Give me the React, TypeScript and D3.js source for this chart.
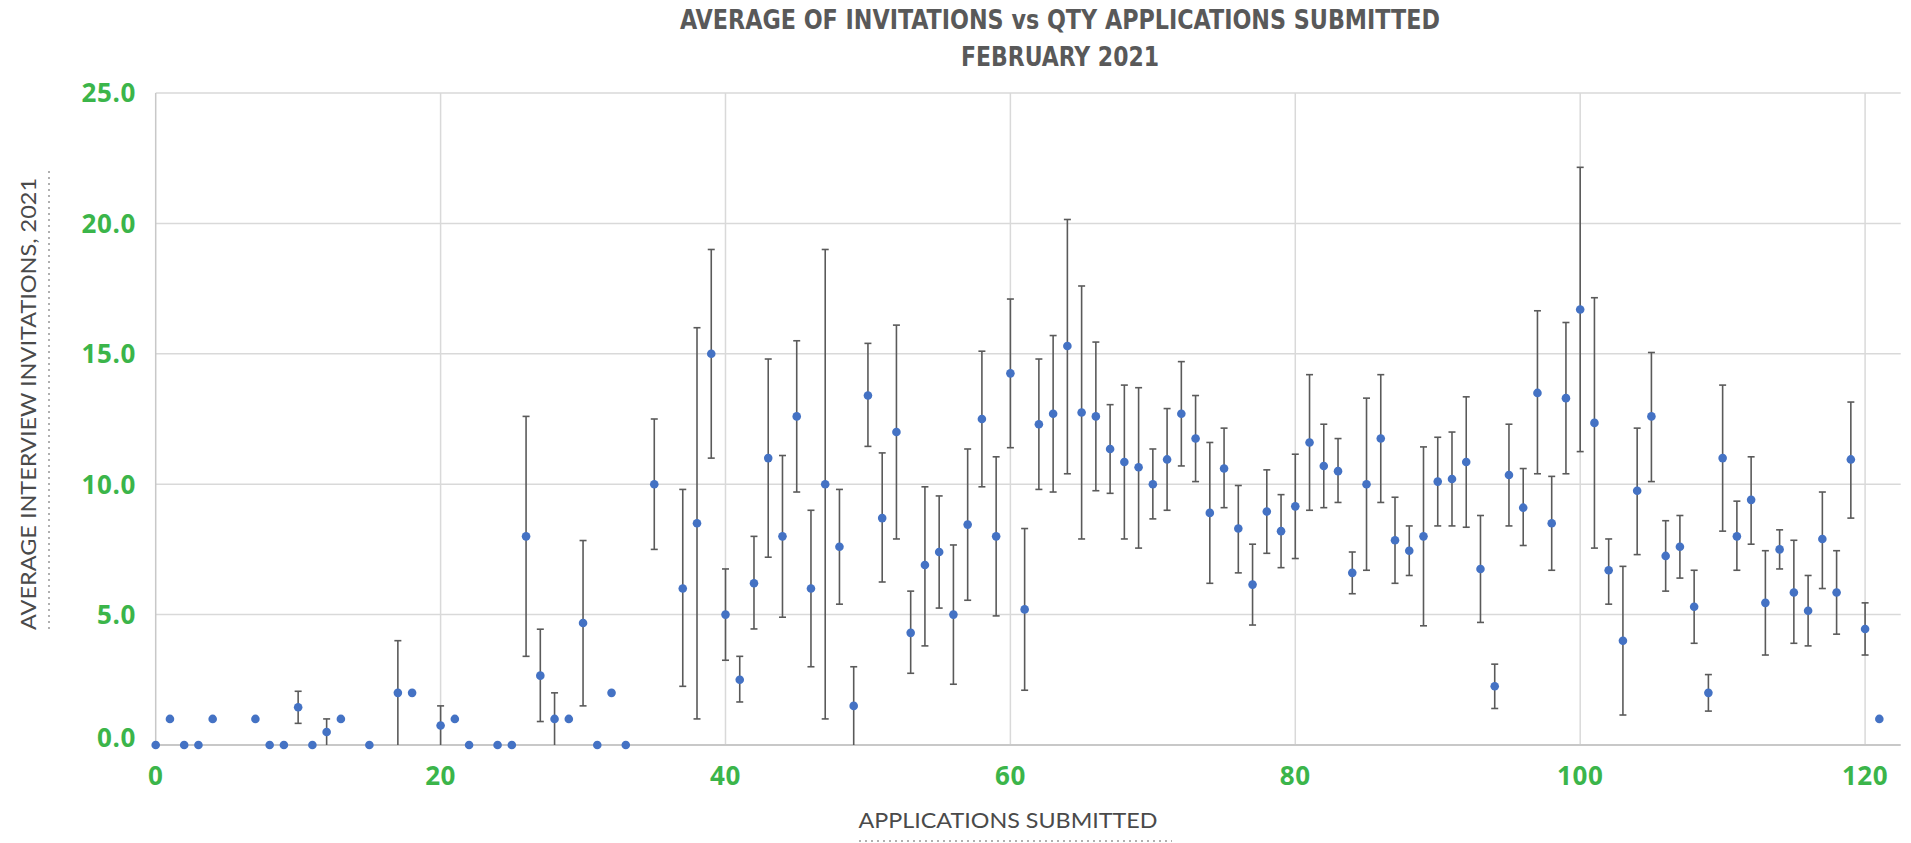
import React from "react";
import * as d3 from "d3";

const TITLE_LINE_1 = "AVERAGE OF INVITATIONS vs QTY APPLICATIONS SUBMITTED";
const TITLE_LINE_2 = "FEBRUARY 2021";
const X_TITLE = "APPLICATIONS SUBMITTED";
const Y_TITLE = "AVERAGE INTERVIEW INVITATIONS, 2021";

const xTicks = [0, 20, 40, 60, 80, 100, 120];
const yTicks = [0, 5, 10, 15, 20, 25];

// applications submitted
const apps = [
  0, 1, 2, 3, 4, 7, 8, 9, 10, 11, 12, 13, 15, 17, 18, 20, 21, 22, 24, 25,
  26, 27, 28, 29, 30, 31, 32, 33, 35, 37, 38, 39, 40, 41, 42, 43, 44, 45, 46, 47,
  48, 49, 50, 51, 52, 53, 54, 55, 56, 57, 58, 59, 60, 61, 62, 63, 64, 65, 66, 67,
  68, 69, 70, 71, 72, 73, 74, 75, 76, 77, 78, 79, 80, 81, 82, 83, 84, 85, 86, 87,
  88, 89, 90, 91, 92, 93, 94, 95, 96, 97, 98, 99, 100, 101, 102, 103, 104, 105, 106, 107,
  108, 109, 110, 111, 112, 113, 114, 115, 116, 117, 118, 119, 120, 121,
];
// average invitations
const avgInv = [
  0, 1, 0, 0, 1, 1, 0, 0, 1.45, 0, 0.5, 1, 0, 2.0, 2, 0.75, 1, 0, 0, 0,
  8.0, 2.66, 1.0, 1, 4.68, 0, 2, 0, 10.0, 6.0, 8.5, 15.0, 5.0, 2.5, 6.2, 11.0, 8.0, 12.6, 6.0, 10.0,
  7.6, 1.5, 13.4, 8.7, 12.0, 4.3, 6.9, 7.4, 5.0, 8.45, 12.5, 8.0, 14.25, 5.2, 12.3, 12.7, 15.3, 12.75, 12.6, 11.35,
  10.85, 10.65, 10.0, 10.95, 12.7, 11.75, 8.9, 10.6, 8.3, 6.15, 8.95, 8.2, 9.15, 11.6, 10.7, 10.5, 6.6, 10.0, 11.75, 7.85,
  7.45, 8.0, 10.1, 10.2, 10.85, 6.75, 2.25, 10.35, 9.1, 13.5, 8.5, 13.3, 16.7, 12.35, 6.7, 4.0, 9.75, 12.6, 7.25, 7.6,
  5.3, 2.0, 11.0, 8.0, 9.4, 5.45, 7.5, 5.85, 5.15, 7.9, 5.85, 10.95, 4.45, 1.0,
];
// error bar low ends (null = no bar)
const errLow = [
  null, null, null, null, null, null, null, null, 0.83, null, 0, null, null, 0, null, 0, null, null, null, null,
  3.4, 0.9, 0, null, 1.5, null, null, null, 7.5, 2.25, 1.0, 11.0, 3.25, 1.65, 4.45, 7.2, 4.9, 9.7, 3.0, 1.0,
  5.4, 0, 11.45, 6.25, 7.9, 2.75, 3.8, 5.25, 2.33, 5.55, 9.9, 4.95, 11.4, 2.1, 9.8, 9.7, 10.4, 7.9, 9.75, 9.65,
  7.9, 7.55, 8.67, 9.0, 10.7, 10.1, 6.2, 9.1, 6.6, 4.6, 7.35, 6.8, 7.15, 9.0, 9.1, 9.3, 5.8, 6.7, 9.3, 6.2,
  6.5, 4.57, 8.4, 8.4, 8.35, 4.7, 1.4, 8.4, 7.65, 10.4, 6.7, 10.4, 11.25, 7.55, 5.4, 1.15, 7.3, 10.1, 5.9, 6.4,
  3.9, 1.3, 8.2, 6.7, 7.7, 3.45, 6.75, 3.9, 3.8, 6.0, 4.25, 8.7, 3.45, null,
];
// error bar high ends (null = no bar)
const errHigh = [
  null, null, null, null, null, null, null, null, 2.06, null, 1.0, null, null, 4.0, null, 1.5, null, null, null, null,
  12.6, 4.44, 2.0, null, 7.84, null, null, null, 12.5, 9.8, 16.0, 19.0, 6.75, 3.4, 8.0, 14.8, 11.1, 15.5, 9.0, 19.0,
  9.8, 3.0, 15.4, 11.2, 16.1, 5.9, 9.9, 9.55, 7.67, 11.35, 15.1, 11.05, 17.1, 8.3, 14.8, 15.7, 20.15, 17.6, 15.45, 13.05,
  13.8, 13.7, 11.35, 12.9, 14.7, 13.4, 11.6, 12.15, 9.95, 7.7, 10.55, 9.6, 11.15, 14.2, 12.3, 11.75, 7.4, 13.3, 14.2, 9.5,
  8.4, 11.43, 11.8, 12.0, 13.35, 8.8, 3.1, 12.3, 10.6, 16.65, 10.3, 16.2, 22.15, 17.15, 7.9, 6.85, 12.15, 15.05, 8.6, 8.8,
  6.7, 2.7, 13.8, 9.35, 11.05, 7.45, 8.25, 7.85, 6.5, 9.7, 7.45, 13.15, 5.45, null,
];

const W = 1911;
const H = 843;
const LEFT = 155.7;
const RIGHT = 1900.7;
const TOP = 93;
const BOTTOM = 745;

export default function App() {
  const x = d3.scaleLinear().domain([0, 122.5]).range([LEFT, RIGHT]);
  const y = d3.scaleLinear().domain([0, 25]).range([BOTTOM, TOP]);
  const green = "#3bb54a";
  const tickFont = "'Open Sans', 'DejaVu Sans', sans-serif";
  const titleFont = "'Liberation Sans Narrow', 'DejaVu Sans Condensed', 'Open Sans', sans-serif";
  const axisTitleFont = "'Lato', 'Open Sans', sans-serif";
  const cap = 3.5;

  return (
    <svg
      width={W}
      height={H}
      style={{ position: "absolute", left: 0, top: 0, display: "block", background: "#fff" }}
    >
      {/* title */}
      <text
        x={1060}
        y={29}
        textAnchor="middle"
        fontFamily={titleFont}
        fontWeight="bold"
        fontSize={27}
        fill="#595959"
        textLength={760}
        lengthAdjust="spacingAndGlyphs"
      >
        {TITLE_LINE_1}
      </text>
      <text
        x={1060}
        y={66}
        textAnchor="middle"
        fontFamily={titleFont}
        fontWeight="bold"
        fontSize={27}
        fill="#595959"
        textLength={198}
        lengthAdjust="spacingAndGlyphs"
      >
        {TITLE_LINE_2}
      </text>

      {/* horizontal gridlines */}
      {yTicks.filter((t) => t > 0).map((t) => (
        <line key={"hy" + t} x1={LEFT} x2={RIGHT} y1={y(t)} y2={y(t)} stroke="#d9d9d9" strokeWidth={1.5} />
      ))}
      {/* vertical gridlines */}
      {xTicks.filter((t) => t > 0).map((t) => (
        <line key={"vx" + t} x1={x(t)} x2={x(t)} y1={TOP} y2={BOTTOM} stroke="#d9d9d9" strokeWidth={1.5} />
      ))}
      {/* axes */}
      <line x1={LEFT} x2={LEFT} y1={TOP} y2={BOTTOM} stroke="#c8c8c8" strokeWidth={1.5} />
      <line x1={LEFT} x2={RIGHT} y1={BOTTOM} y2={BOTTOM} stroke="#c8c8c8" strokeWidth={2} />

      {/* y tick labels */}
      {yTicks.map((t) => (
        <text
          key={"yl" + t}
          x={136}
          y={y(t) - (t === 0 ? 7 : 0)}
          dy="0.36em"
          textAnchor="end"
          fontFamily={tickFont}
          fontWeight="bold"
          fontSize={26}
          letterSpacing={0.6}
          fill={green}
        >
          {d3.format(".1f")(t)}
        </text>
      ))}
      {/* x tick labels */}
      {xTicks.map((t) => (
        <text
          key={"xl" + t}
          x={x(t)}
          y={776}
          dy="0.36em"
          textAnchor="middle"
          fontFamily={tickFont}
          fontWeight="bold"
          fontSize={26}
          letterSpacing={0.6}
          fill={green}
        >
          {t}
        </text>
      ))}

      {/* axis titles */}
      <text
        x={1008}
        y={828}
        textAnchor="middle"
        fontFamily={axisTitleFont}
        fontSize={22}
        fill="#4a4a4a"
        textLength={299}
        lengthAdjust="spacingAndGlyphs"
      >
        {X_TITLE}
      </text>
      <line x1={859} x2={1172} y1={841} y2={841} stroke="#b0b0b0" strokeWidth={2} strokeDasharray="2,4" />
      <text
        transform={`translate(36, 404) rotate(-90)`}
        textAnchor="middle"
        fontFamily={axisTitleFont}
        fontSize={22}
        fill="#4a4a4a"
        textLength={452}
        lengthAdjust="spacingAndGlyphs"
      >
        {Y_TITLE}
      </text>
      <line x1={49} x2={49} y1={171} y2={631} stroke="#b0b0b0" strokeWidth={2} strokeDasharray="2,4" />

      {/* error bars */}
      {apps.map((a, i) => {
        const lo = errLow[i];
        const hi = errHigh[i];
        if (lo === null || hi === null) return null;
        const cx = x(a);
        return (
          <g key={"e" + i} stroke="#5a5a5a" strokeWidth={1.6}>
            <line x1={cx} x2={cx} y1={y(lo)} y2={y(hi)} />
            <line x1={cx - cap} x2={cx + cap} y1={y(hi)} y2={y(hi)} />
            {lo > 0 && <line x1={cx - cap} x2={cx + cap} y1={y(lo)} y2={y(lo)} />}
          </g>
        );
      })}

      {/* points */}
      {apps.map((a, i) => (
        <circle key={"p" + i} cx={x(a)} cy={y(avgInv[i])} r={4.3} fill="#4472c4" />
      ))}
    </svg>
  );
}
